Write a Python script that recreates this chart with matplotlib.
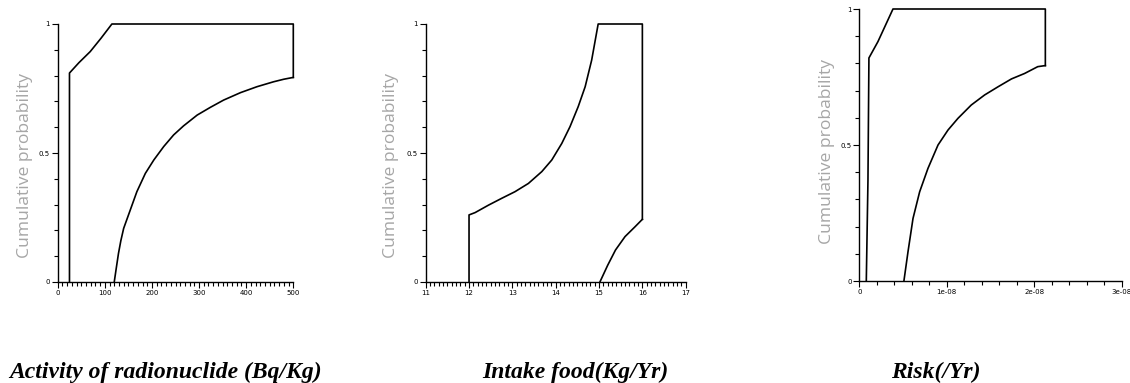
import numpy as np
import matplotlib
matplotlib.use("Agg")
import matplotlib.pyplot as plt
from matplotlib.ticker import MultipleLocator

# Panel 1: activity of radionuclide (Bq/Kg)
act_left_x = [25, 25, 45, 69, 92, 115, 500, 500]
act_left_p = [0.0, 0.81, 0.85, 0.893, 0.945, 1.0, 1.0, 0.793]
act_right_x = [120, 124, 129, 134, 140, 154, 168, 186, 204, 225, 246, 267, 296, 324, 352, 388, 423, 458, 480, 500]
act_right_p = [0.0, 0.05, 0.111, 0.16, 0.208, 0.279, 0.350, 0.421, 0.473, 0.525, 0.570, 0.605, 0.647, 0.677,
               0.705, 0.734, 0.757, 0.776, 0.786, 0.793]

# Panel 2: intake food (Kg/Yr)
food_left_x = [12.0, 12.0, 12.14, 12.45, 12.75, 13.06, 13.37, 13.68, 13.91, 14.14, 14.33, 14.52,
               14.68, 14.83, 14.98, 16.0, 16.0]
food_left_p = [0.0, 0.26, 0.269, 0.298, 0.324, 0.350, 0.382, 0.428, 0.473, 0.537, 0.602, 0.680,
               0.757, 0.860, 1.0, 1.0, 0.243]
food_right_x = [15.02, 15.2, 15.38, 15.6, 15.83, 16.0]
food_right_p = [0.0, 0.065, 0.124, 0.176, 0.214, 0.243]

# Panel 3: risk (/Yr)
risk_left_x = [0.8e-9, 0.99e-9, 1.1e-9, 2.13e-9, 3.85e-9, 21.27e-9, 21.27e-9]
risk_left_p = [0.0, 0.37, 0.82, 0.88, 1.0, 1.0, 0.792]
risk_right_x = [5.1e-9, 5.57e-9, 6.14e-9, 6.9e-9, 7.85e-9, 9.0e-9, 10.14e-9, 11.28e-9, 12.8e-9,
                14.33e-9, 15.86e-9, 17.4e-9, 18.9e-9, 20.4e-9, 21.27e-9]
risk_right_p = [0.0, 0.108, 0.230, 0.328, 0.414, 0.5, 0.555, 0.598, 0.647, 0.684, 0.714, 0.743,
                0.763, 0.788, 0.792]

titles = ["Activity of radionuclide (Bq/Kg)", "Intake food(Kg/Yr)", "Risk(/Yr)"]

W, H = 1130, 383
fig = plt.figure(figsize=(W / 100, H / 100), dpi=100)


def px_axes(x0, x1, ytop, ybot):
    return fig.add_axes([x0 / W, 1 - ybot / H, (x1 - x0) / W, (ybot - ytop) / H])


def style(ax, xlim, major, minor, xticklabels=None):
    ax.set_xlim(*xlim)
    ax.set_ylim(0, 1)
    for s in ["top", "right"]:
        ax.spines[s].set_visible(False)
    for s in ["left", "bottom"]:
        ax.spines[s].set_linewidth(1.0)
    ax.set_yticks([0, 0.5, 1])
    ax.set_yticklabels(["0", "0.5", "1"])
    ax.yaxis.set_minor_locator(MultipleLocator(0.1))
    ax.xaxis.set_major_locator(MultipleLocator(major))
    ax.xaxis.set_minor_locator(MultipleLocator(minor))
    if xticklabels is not None:
        ax.set_xticks(xticklabels[0])
        ax.set_xticklabels(xticklabels[1])
    ax.tick_params(which="major", length=4, width=0.8, labelsize=5, pad=1.5)
    ax.tick_params(which="minor", length=3, width=0.8)


lw = 1.2
ax1 = px_axes(57.7, 293.3, 24, 282)
ax1.plot(act_left_x, act_left_p, color="black", lw=lw, clip_on=False)
ax1.plot(act_right_x, act_right_p, color="black", lw=lw, clip_on=False)
style(ax1, (0, 500), 100, 10)

ax2 = px_axes(425.7, 685.7, 24, 282)
ax2.plot(food_left_x, food_left_p, color="black", lw=lw, clip_on=False)
ax2.plot(food_right_x, food_right_p, color="black", lw=lw, clip_on=False)
style(ax2, (11, 17), 1, 0.1)

ax3 = px_axes(859.3, 1121.7, 9, 281)
ax3.plot(risk_left_x, risk_left_p, color="black", lw=lw, clip_on=False)
ax3.plot(risk_right_x, risk_right_p, color="black", lw=lw, clip_on=False)
style(ax3, (0, 3e-8), 1e-8, 2e-9,
      xticklabels=([0, 1e-8, 2e-8, 3e-8], ["0", "1e-08", "2e-08", "3e-08"]))

# y labels
for xc, yc in [(25, 165), (391, 165), (827, 152)]:
    fig.text(xc / W, 1 - yc / H, "Cumulative probability", rotation=90, color="#a6a6a6",
             fontsize=12.6, ha="center", va="center", family="Open Sans")

# bottom titles
for xc, t in zip([166, 575, 936], titles):
    fig.text(xc / W, 1 - 378 / H, t, ha="center", va="baseline", fontsize=17,
             family="Liberation Serif", weight="bold", style="italic")

plt.savefig("out.png", dpi=100)
